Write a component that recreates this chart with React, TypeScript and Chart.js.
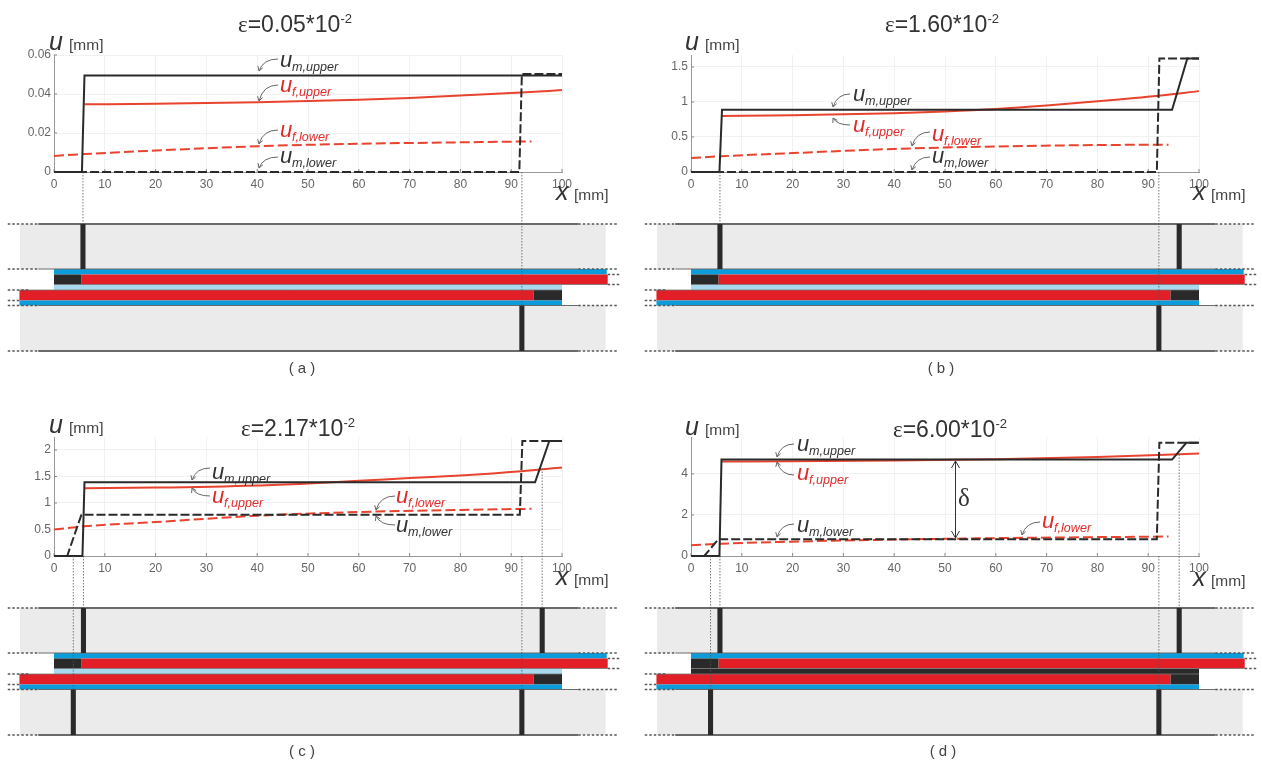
import React, { useEffect, useRef } from "react";
import { Chart, registerables } from "chart.js";

Chart.register(...registerables);

type P = number[];

// ---------- values (x in mm, u in mm) ----------
const xTicks = [0, 10, 20, 30, 40, 50, 60, 70, 80, 90, 100];

const aYTicks = [0, 0.02, 0.04, 0.06];
const aMUpper: P[] = [[0, 0], [5.5, 0], [6, 0.0495], [100, 0.0495]];
const aMLower: P[] = [[0, 0], [91.6, 0], [92.1, 0.0503], [100, 0.0503]];
const aFUpper: P[] = [[6, 0.0347], [20, 0.035], [40, 0.0358], [60, 0.037], [70, 0.038], [80, 0.0392], [92, 0.0408], [100, 0.042]];
const aFLower: P[] = [[0, 0.0082], [6, 0.0092], [20, 0.011], [40, 0.0132], [60, 0.0145], [80, 0.0152], [94, 0.0157]];

const bYTicks = [0, 0.5, 1, 1.5];
const bMUpper: P[] = [[0, 0], [5.6, 0], [6.1, 0.89], [94.7, 0.89], [97.7, 1.62], [100, 1.62]];
const bMLower: P[] = [[0, 0], [91.7, 0], [92.2, 1.62], [100, 1.62]];
const bFUpper: P[] = [[6, 0.8], [20, 0.81], [40, 0.84], [50, 0.865], [60, 0.9], [70, 0.95], [80, 1.01], [92, 1.09], [100, 1.155]];
const bFLower: P[] = [[0, 0.2], [6, 0.225], [20, 0.27], [40, 0.33], [60, 0.365], [80, 0.385], [94, 0.39]];

const cYTicks = [0, 0.5, 1, 1.5, 2];
const cMUpper: P[] = [[0, 0], [5.6, 0], [6, 1.39], [94.7, 1.39], [97.5, 2.17], [100, 2.17]];
const cMLower: P[] = [[0, 0], [2.6, 0], [5.4, 0.78], [91.7, 0.78], [92.2, 2.17], [100, 2.17]];
const cFUpper: P[] = [[6, 1.28], [20, 1.29], [40, 1.33], [50, 1.37], [60, 1.42], [70, 1.47], [80, 1.52], [92, 1.6], [100, 1.67]];
const cFLower: P[] = [[0, 0.5], [6, 0.56], [20, 0.64], [40, 0.76], [60, 0.83], [80, 0.87], [94, 0.89]];

const dYTicks = [0, 2, 4];
const dMUpper: P[] = [[0, 0], [5.6, 0], [6, 4.7], [94.7, 4.7], [97.5, 5.52], [100, 5.52]];
const dMLower: P[] = [[0, 0], [2.6, 0], [5.4, 0.82], [91.7, 0.82], [92.2, 5.52], [100, 5.52]];
const dFUpper: P[] = [[6, 4.6], [20, 4.62], [40, 4.65], [60, 4.72], [80, 4.83], [92, 4.92], [100, 5]];
const dFLower: P[] = [[0, 0.52], [6, 0.6], [20, 0.7], [40, 0.8], [60, 0.87], [80, 0.92], [94, 0.95]];

// steel anchors along the joint, mm
const aUpperBars = [5.7];
const aLowerBars = [92.1];
const bUpperBars = [5.7, 96.1];
const bLowerBars = [92.1];
const cUpperBars = [5.8, 96.1];
const cLowerBars = [3.8, 92.1];
const dUpperBars = [5.7, 96.1];
const dLowerBars = [3.85, 92.1];

const titles = ["0.05", "1.60", "2.17", "6.00"];
const captions = ["( a )", "( b )", "( c )", "( d )"];

// ---------- layout and style ----------
const BLACK = "#2a2a2a";
const RED = "#e8432e";
const LABEL_RED = "#e02a2a";

type Lab = { sub: string; c: string; x: number; y: number; s: number[]; e: number[] };
type Panel = {
  off: number[]; rect: number[]; yMax: number; yTicks: number[];
  mU: P[]; mL: P[]; fU: P[]; fL: P[]; upper: number[]; lower: number[];
  band: string; guides: number[][]; title: number[]; uX: number[]; xX: number[]; cap: number[];
  labels: Lab[]; delta?: boolean;
};

const lab = (sub: string, x: number, y: number, s: number[], e: number[]): Lab => ({
  sub, c: sub[0] === "f" ? LABEL_RED : "#333", x, y, s, e,
});

const panels: Panel[] = [
  {
    off: [0, 0], rect: [54, 562, 55, 172], yMax: 0.06, yTicks: aYTicks,
    mU: aMUpper, mL: aMLower, fU: aFUpper, fL: aFLower, upper: aUpperBars, lower: aLowerBars,
    band: "#a9d9ef", guides: [[5.7, 0, 52], [92.1, 0, 134]],
    title: [238, 32], uX: [49, 50, 69], xX: [556, 200, 574], cap: [302, 373],
    labels: [
      lab("m,upper", 280, 67, [278, 59], [259, 71]),
      lab("f,upper", 280, 92, [278, 85], [259, 101]),
      lab("f,lower", 280, 137, [278, 130], [259, 144]),
      lab("m,lower", 280, 163, [278, 157], [259, 168]),
    ],
  },
  {
    off: [631, 0], rect: [691, 1199, 55, 172], yMax: 1.671, yTicks: bYTicks,
    mU: bMUpper, mL: bMLower, fU: bFUpper, fL: bFLower, upper: bUpperBars, lower: bLowerBars,
    band: "#a9d9ef", guides: [[5.7, 0, 52], [92.1, 0, 134]],
    title: [885, 32], uX: [685, 50, 705], xX: [1193, 200, 1211], cap: [941, 373],
    labels: [
      lab("m,upper", 853, 101, [850, 94], [833, 107]),
      lab("f,upper", 853, 132, [850, 125], [833, 118]),
      lab("f,lower", 932, 141, [930, 132], [912, 146]),
      lab("m,lower", 932, 163, [930, 157], [912, 170]),
    ],
  },
  {
    off: [0, 382], rect: [54, 562, 437, 556], yMax: 2.245, yTicks: cYTicks,
    mU: cMUpper, mL: cMLower, fU: cFUpper, fL: cFLower, upper: cUpperBars, lower: cLowerBars,
    band: "#a9d9ef", guides: [[3.8, 0, 134], [5.8, 0, 52], [92.1, 0, 134], [96.1, 1.65, 52]],
    title: [241, 436], uX: [49, 433, 69], xX: [556, 585, 574], cap: [302, 756],
    labels: [
      lab("m,upper", 212, 479, [210, 468], [192, 480]),
      lab("f,upper", 212, 503, [210, 496], [192, 488]),
      lab("f,lower", 396, 503, [395, 496], [376, 510]),
      lab("m,lower", 396, 532, [395, 525], [376, 516]),
    ],
  },
  {
    off: [631, 382], rect: [691, 1199, 437, 556], yMax: 5.8, yTicks: dYTicks,
    mU: dMUpper, mL: dMLower, fU: dFUpper, fL: dFLower, upper: dUpperBars, lower: dLowerBars,
    band: "#2a2a2a", guides: [[3.85, 0, 134], [5.7, 0, 52], [92.1, 0, 134], [96.1, 4.95, 52]],
    title: [893, 437], uX: [685, 435, 705], xX: [1193, 586, 1211], cap: [943, 756],
    labels: [
      lab("m,upper", 797, 451, [794, 444], [777, 457]),
      lab("f,upper", 797, 480, [794, 475], [777, 462]),
      lab("m,lower", 797, 532, [794, 524], [777, 537]),
      lab("f,lower", 1042, 528, [1040, 522], [1022, 535]),
    ],
    delta: true,
  },
];

const SANS = '"Liberation Sans", Arial, sans-serif';
const SERIF = '"Liberation Serif", serif';
const CW = 631;
const CH = 382;

const toXY = (pts: P[]) => pts.map(([x, y]) => ({ x, y }));

function App() {
  const refs = useRef<(HTMLCanvasElement | null)[]>([]);

  useEffect(() => {
    const charts = panels.map((p, i) => {
      const [ox, oy] = p.off;
      const [pl, pr, pt, pb] = p.rect;
      const plotH = pb - pt;
      const pm = {
        id: "schematic",
        beforeDatasetsDraw(chart: any) {
          const ctx = chart.ctx as CanvasRenderingContext2D;
          const X = (v: number) => chart.scales.x.getPixelForValue(v);
          const D = (v: number) => chart.scales.depth.getPixelForValue(v);
          const rect = (x0: number, x1: number, d0: number, d1: number, c: string) => {
            ctx.fillStyle = c;
            ctx.fillRect(X(x0), D(d0), X(x1) - X(x0), D(d1) - D(d0));
          };
          const hline = (x0: number, x1: number, d: number, c: string, w: number, dash: number[] = []) => {
            ctx.strokeStyle = c;
            ctx.lineWidth = w;
            ctx.setLineDash(dash);
            ctx.beginPath();
            ctx.moveTo(X(x0), D(d));
            ctx.lineTo(X(x1), D(d));
            ctx.stroke();
            ctx.setLineDash([]);
          };
          ctx.save();
          rect(-6.7, 108.6, 52, 97, "#ebebeb");
          rect(-6.7, 108.6, 133.5, 179, "#ebebeb");
          // lower laminate
          rect(0, 100, 112.5, 118, p.band);
          rect(-6.8, 94.4, 118, 128.5, "#e21f26");
          rect(94.4, 100, 118, 128.5, BLACK);
          rect(-6.8, 100, 128.5, 133.5, "#0b9ddb");
          // upper laminate
          rect(0, 108.8, 97, 102.5, "#0b9ddb");
          rect(5.4, 109, 102.5, 112.5, "#e21f26");
          rect(0, 5.4, 102.5, 112.5, BLACK);
          // outlines
          for (const d of [52, 97, 133.5, 179]) {
            hline(-3.1, 103.2, d, "#6a6a6a", d === 97 || d === 133.5 ? 1.2 : 1.8);
            hline(-9.1, -3.1, d, "#555", 1.4, [2.5, 2]);
            hline(103.2, 110.8, d, "#555", 1.4, [2.5, 2]);
          }
          hline(0, 109, 112.5, "#777", 0.8);
          hline(-6.8, 100, 118, "#777", 0.8);
          hline(-9.1, -4.7, 118, "#555", 1.4, [2.5, 2]);
          hline(-9.1, -6.8, 128.5, "#555", 1.4, [2.5, 2]);
          hline(109, 111.4, 102.5, "#555", 1.4, [2.5, 2]);
          hline(109, 111.4, 112.5, "#555", 1.4, [2.5, 2]);
          // anchors
          for (const b of p.upper) rect(b - 0.5, b + 0.5, 52, 97, BLACK);
          for (const b of p.lower) rect(b - 0.5, b + 0.5, 133.5, 179, BLACK);
          // axis ticks pointing inward
          ctx.strokeStyle = "#888";
          ctx.lineWidth = 1;
          ctx.beginPath();
          const { left, bottom } = chart.chartArea;
          for (const t of xTicks) {
            ctx.moveTo(X(t), bottom);
            ctx.lineTo(X(t), bottom - 3);
          }
          for (const t of p.yTicks) {
            const y = chart.scales.y.getPixelForValue(t);
            ctx.moveTo(left, y);
            ctx.lineTo(left + 3, y);
          }
          ctx.stroke();
          ctx.restore();
        },
        afterDatasetsDraw(chart: any) {
          const ctx = chart.ctx as CanvasRenderingContext2D;
          const X = (v: number) => chart.scales.x.getPixelForValue(v);
          const Y = (v: number) => chart.scales.y.getPixelForValue(v);
          const D = (v: number) => chart.scales.depth.getPixelForValue(v);
          ctx.save();
          ctx.textBaseline = "alphabetic";
          ctx.textAlign = "left";
          // guide lines
          ctx.strokeStyle = "#555";
          ctx.lineWidth = 0.8;
          ctx.setLineDash([1.5, 1.5]);
          for (const [gx, gu, gd] of p.guides) {
            ctx.beginPath();
            ctx.moveTo(X(gx), Y(gu));
            ctx.lineTo(X(gx), D(gd));
            ctx.stroke();
          }
          ctx.setLineDash([]);

          const T = (s: string, x: number, y: number, font: string, c: string) => {
            ctx.font = font;
            ctx.fillStyle = c;
            ctx.fillText(s, x - ox, y - oy);
          };
          // title
          let tx = p.title[0];
          const ty = p.title[1];
          ctx.font = `23px ${SERIF}`;
          T("ε", tx, ty, `23px ${SERIF}`, "#333");
          tx += ctx.measureText("ε").width;
          const main = `=${titles[i]}*10`;
          T(main, tx, ty, `23px ${SANS}`, "#333");
          tx += ctx.measureText(main).width;
          T("-2", tx, ty - 9, `13px ${SANS}`, "#333");
          // axis labels
          T("u", p.uX[0], p.uX[1], `italic 25px ${SANS}`, "#333");
          T("[mm]", p.uX[2], p.uX[1], `15.5px ${SANS}`, "#444");
          T("x", p.xX[0], p.xX[1], `italic 25px ${SANS}`, "#333");
          T("[mm]", p.xX[2], p.xX[1], `15.5px ${SANS}`, "#444");
          // caption
          ctx.textAlign = "center";
          T(captions[i], p.cap[0], p.cap[1], `15px ${SANS}`, "#444");
          ctx.textAlign = "left";
          // curve labels with leaders
          for (const l of p.labels) {
            T("u", l.x, l.y, `italic 22px ${SANS}`, l.c);
            T(l.sub, l.x + 12, l.y + 4, `italic 12.6px ${SANS}`, l.c);
            const sx = l.s[0] - ox, sy = l.s[1] - oy, ex = l.e[0] - ox, ey = l.e[1] - oy;
            ctx.strokeStyle = "#666";
            ctx.lineWidth = 1;
            ctx.beginPath();
            ctx.moveTo(sx, sy);
            const cx = ex + 4, cy = sy;
            ctx.quadraticCurveTo(cx, cy, ex, ey);
            const a = Math.atan2(ey - cy, ex - cx);
            for (const da of [2.6, -2.6]) {
              ctx.moveTo(ex, ey);
              ctx.lineTo(ex + 5 * Math.cos(a + da), ey + 5 * Math.sin(a + da));
            }
            ctx.stroke();
          }
          if (p.delta) {
            const ax = 955.5 - ox, y0 = 461 - oy, y1 = 538 - oy;
            ctx.strokeStyle = "#333";
            ctx.lineWidth = 1;
            ctx.beginPath();
            ctx.moveTo(ax, y0);
            ctx.lineTo(ax, y1);
            ctx.moveTo(ax - 4, y0 + 7);
            ctx.lineTo(ax, y0);
            ctx.lineTo(ax + 4, y0 + 7);
            ctx.moveTo(ax - 4, y1 - 7);
            ctx.lineTo(ax, y1);
            ctx.lineTo(ax + 4, y1 - 7);
            ctx.stroke();
            T("δ", 958, 506, `25px ${SERIF}`, "#333");
          }
          ctx.restore();
        },
      };

      const ds = (data: P[], color: string, dash: number[], smooth = false) => ({
        type: "line",
        data: toXY(data),
        borderColor: color,
        borderWidth: 2,
        borderDash: dash,
        pointRadius: 0,
        tension: 0,
        cubicInterpolationMode: smooth ? "monotone" : "default",
        clip: false,
        yAxisID: "y",
        xAxisID: "x",
      });

      return new Chart(refs.current[i] as HTMLCanvasElement, {
        type: "line",
        data: {
          datasets: [
            ds(p.mU, BLACK, []),
            ds(p.mL, BLACK, [9, 3]),
            ds(p.fU, RED, [], true),
            ds(p.fL, RED, [10, 4], true),
          ],
        } as any,
        plugins: [pm],
        options: {
          animation: false,
          responsive: false,
          parsing: false as any,
          normalized: true,
          layout: {
            padding: {
              left: pl - ox - 40,
              right: CW - (pr - ox),
              top: pt - oy,
              bottom: CH - (pb - oy) - 24,
            },
          },
          plugins: { legend: { display: false }, title: { display: false }, tooltip: { enabled: false } },
          scales: {
            x: {
              type: "linear",
              min: 0,
              max: 100,
              afterBuildTicks: (s: any) => { s.ticks = xTicks.map((value) => ({ value })); },
              afterFit: (s: any) => { s.height = 24; s.paddingLeft = 0; s.paddingRight = 0; },
              border: { color: "#999" },
              grid: { color: "#f1f1f1", drawTicks: false },
              ticks: {
                padding: 5,
                color: "#666",
                maxRotation: 0,
                autoSkip: false,
                font: { family: SANS, size: 12 },
                callback: (v: any) => String(v),
              },
            },
            y: {
              type: "linear",
              min: 0,
              max: p.yMax,
              afterBuildTicks: (s: any) => { s.ticks = p.yTicks.map((value) => ({ value })); },
              afterFit: (s: any) => { s.width = 40; s.paddingTop = 0; s.paddingBottom = 0; },
              border: { color: "#999" },
              grid: { color: "#f1f1f1", drawTicks: false },
              ticks: {
                padding: 3,
                color: "#666",
                autoSkip: false,
                font: { family: SANS, size: 12 },
                callback: (v: any) => String(v),
              },
            },
            depth: {
              type: "linear",
              display: false,
              position: "right",
              reverse: true,
              min: -plotH,
              max: 0,
            },
          },
        } as any,
      });
    });
    return () => charts.forEach((c) => c.destroy());
  }, []);

  return (
    <div style={{ position: "absolute", left: 0, top: 0, width: 1262, height: 764, background: "#fff", overflow: "hidden", filter: "blur(0.45px)" }}>
      {panels.map((p, i) => (
        <canvas
          key={i}
          ref={(el) => { refs.current[i] = el; }}
          width={CW}
          height={CH}
          style={{ position: "absolute", left: p.off[0], top: p.off[1], width: CW, height: CH }}
        />
      ))}
    </div>
  );
}

export default App;
